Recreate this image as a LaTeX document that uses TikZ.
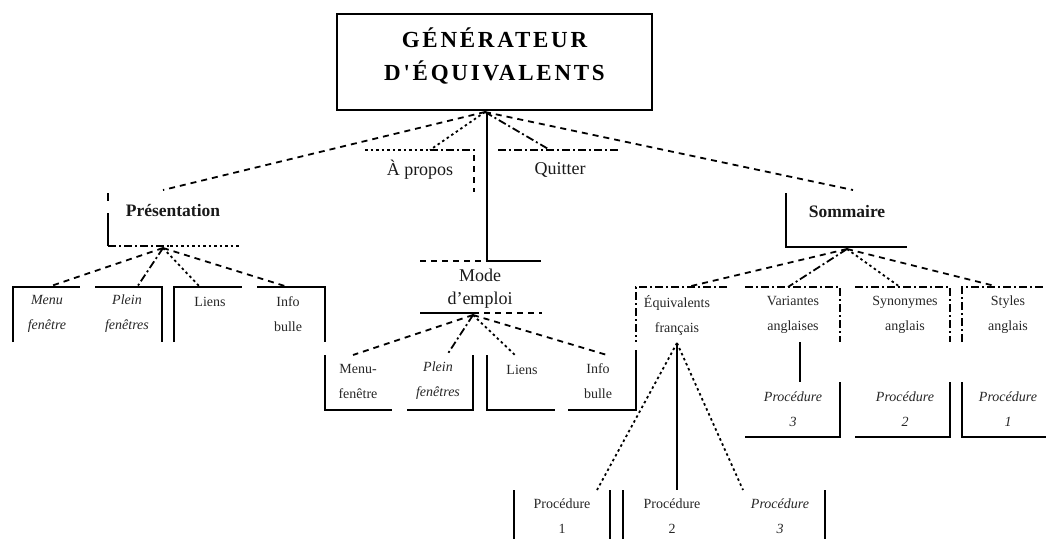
\documentclass[tikz,border=0pt]{standalone}
\usepackage{fontspec}
\setmainfont{Liberation Serif}
\newfontfamily\titlefont[LetterSpace=12]{Liberation Serif}
\begin{document}
\begin{tikzpicture}[x=1pt,y=-1pt,
  edge/.style={line width=1.8pt},
  dsh/.style={edge, dash pattern=on 6pt off 5pt},
  dtt/.style={edge, dash pattern=on 2.5pt off 3pt},
  dshdot/.style={edge, dash pattern=on 8pt off 3pt on 2pt off 3pt},
  lbl/.style={font=\fontsize{14}{25}\selectfont, text=black!85, align=center, inner sep=0pt},
  head/.style={font=\fontsize{18}{23}\selectfont, text=black!90, align=center, inner sep=0pt},
  boldhead/.style={head, font=\fontsize{17.5}{23}\selectfont\bfseries},
  ital/.style={lbl, font=\fontsize{14}{25}\selectfont\itshape},
]
\useasboundingbox (0,0) rectangle (1046,539);

% ---- title ----
\node[draw, line width=2.2pt, minimum width=315pt, minimum height=96pt, inner sep=0pt] (title) at (494.5,62) {};
\node[align=center, inner sep=0pt, font=\titlefont\bfseries\fontsize{23}{33}\selectfont] (titletext) at (494.5,56) {GÉNÉRATEUR\\D'ÉQUIVALENTS};

% ---- first level labels ----
\node[boldhead] (pres) at (173,210) {Présentation};
\node[head] (apropos) at (420,170) {À propos};
\node[head] (quit) at (560,170) {Quitter};
\node[head] (mode) at (480,289) {Mode\\d'emploi};
\node[boldhead] (som) at (847,212) {Sommaire};

% connection points
\coordinate (hub) at (485,112);
\coordinate (vtop) at (487,112);
\coordinate (presIn) at (163,190);
\coordinate (aproposIn) at (430,150);
\coordinate (quitIn) at (550,150);
\coordinate (somIn) at (853,190);
\coordinate (modeTop) at (487,261);
\coordinate (modeTopR) at (541,261);

\draw[dsh] (hub) -- (presIn);
\draw[dtt] (hub) -- (aproposIn);
\draw[edge] (vtop) -- (modeTop) -- (modeTopR);
\draw[dshdot] (hub) -- (quitIn);
\draw[dsh] (hub) -- (somIn);

% frames of the first level
\draw[edge, dash pattern=on 8pt off 12pt on 40pt] (108,193) -- (108,246);
\draw[dshdot] (108,246) -- (170,246);
\draw[dtt] (170,246) -- (240,246);

\draw[dtt] (365,150) -- (aproposIn);
\draw[dshdot] (aproposIn) -- (475,150);
\draw[dsh] (474,155) -- (474,192);

\draw[dshdot] (498,150) -- (620,150);

\draw[dsh] (420,261) -- (modeTop);
\draw[edge] (420,313) -- (473,313);
\draw[dsh] (473,313) -- (542,313);

\draw[edge] (786,193) -- (786,247) -- (907,247);

% ---- Présentation children ----
\coordinate (presHub) at (163,248);
\coordinate (p1) at (48,287);
\coordinate (p2) at (137,287);
\coordinate (p3) at (200,287);
\coordinate (p4) at (288,287);
\draw[edge] (13,342) -- (13,287) -- (80,287);
\draw[edge] (95,287) -- (162,287) -- (162,342);
\draw[edge] (174,342) -- (174,287) -- (242,287);
\draw[edge] (257,287) -- (325,287) -- (325,342);
\draw[dsh] (presHub) -- (p1);
\draw[dshdot] (presHub) -- (p2);
\draw[dtt] (presHub) -- (p3);
\draw[dsh] (presHub) -- (p4);
\node[ital] (pm) at (47,314) {Menu\\fenêtre};
\node[ital] (pp) at (127,314) {Plein\\fenêtres};
\node[lbl] (pl) at (210,302) {Liens};
\node[lbl] (pi) at (288,314) {Info\\bulle};

% ---- Mode d'emploi children ----
\coordinate (modeHub) at (473,315);
\coordinate (m1) at (353,355);
\coordinate (m2) at (447,355);
\coordinate (m3) at (515,355);
\coordinate (m4) at (607,355);
\draw[edge] (325,355) -- (325,410) -- (392,410);
\draw[edge] (407,410) -- (473,410) -- (473,355);
\draw[edge] (487,355) -- (487,410) -- (555,410);
\draw[edge] (568,410) -- (636,410) -- (636,350);
\draw[dsh] (modeHub) -- (m1);
\draw[dshdot] (modeHub) -- (m2);
\draw[dtt] (modeHub) -- (m3);
\draw[dsh] (modeHub) -- (m4);
\node[lbl] (mm) at (358,381) {Menu-\\fenêtre};
\node[ital] (mp) at (438,381) {Plein\\fenêtres};
\node[lbl] (ml) at (522,370) {Liens};
\node[lbl] (mi) at (598,381) {Info\\bulle};

% ---- Sommaire children ----
\coordinate (somHub) at (847,249);
\coordinate (s1) at (687,287);
\coordinate (s2) at (788,287);
\coordinate (s3) at (900,287);
\coordinate (s4) at (995,286);
\draw[dshdot] (727,287) -- (636,287) -- (636,342);
\draw[dshdot] (745,287) -- (840,287) -- (840,342);
\draw[dshdot] (855,287) -- (950,287) -- (950,342);
\draw[dshdot] (962,342) -- (962,287) -- (1046,287);
\draw[dsh] (somHub) -- (s1);
\draw[dshdot] (somHub) -- (s2);
\draw[dtt] (somHub) -- (s3);
\draw[dsh] (somHub) -- (s4);
\node[lbl] (eq) at (677,315) {Équivalents\\français};
\node[lbl] (va) at (793,315) {Variantes\\anglaises};
\node[lbl] (sy) at (905,315) {Synonymes\\anglais};
\node[lbl] (st) at (1008,315) {Styles\\anglais};

% procedures of the English lists
\coordinate (vaLow) at (800,342);
\coordinate (pr3top) at (800,382);
\draw[edge] (vaLow) -- (pr3top);
\draw[edge] (840,382) -- (840,437) -- (745,437);
\draw[edge] (950,382) -- (950,437) -- (855,437);
\draw[edge] (962,382) -- (962,437) -- (1046,437);
\node[ital] (pra) at (793,409) {Procédure\\3};
\node[ital] (prb) at (905,409) {Procédure\\2};
\node[ital] (prc) at (1008,409) {Procédure\\1};

% procedures of the French equivalents
\coordinate (eqHub) at (677,343);
\coordinate (q1) at (597,490);
\coordinate (q2) at (677,490);
\coordinate (q3) at (743,490);
\draw[dtt] (eqHub) -- (q1);
\draw[edge] (eqHub) -- (q2);
\draw[dtt] (eqHub) -- (q3);
\draw[edge] (514,490) -- (514,539);
\draw[edge] (610,490) -- (610,539);
\draw[edge] (623,490) -- (623,539);
\draw[edge] (825,490) -- (825,539);
\node[lbl] (fa) at (562,516) {Procédure\\1};
\node[lbl] (fb) at (672,516) {Procédure\\2};
\node[ital] (fc) at (780,516) {Procédure\\3};
\end{tikzpicture}
\end{document}
